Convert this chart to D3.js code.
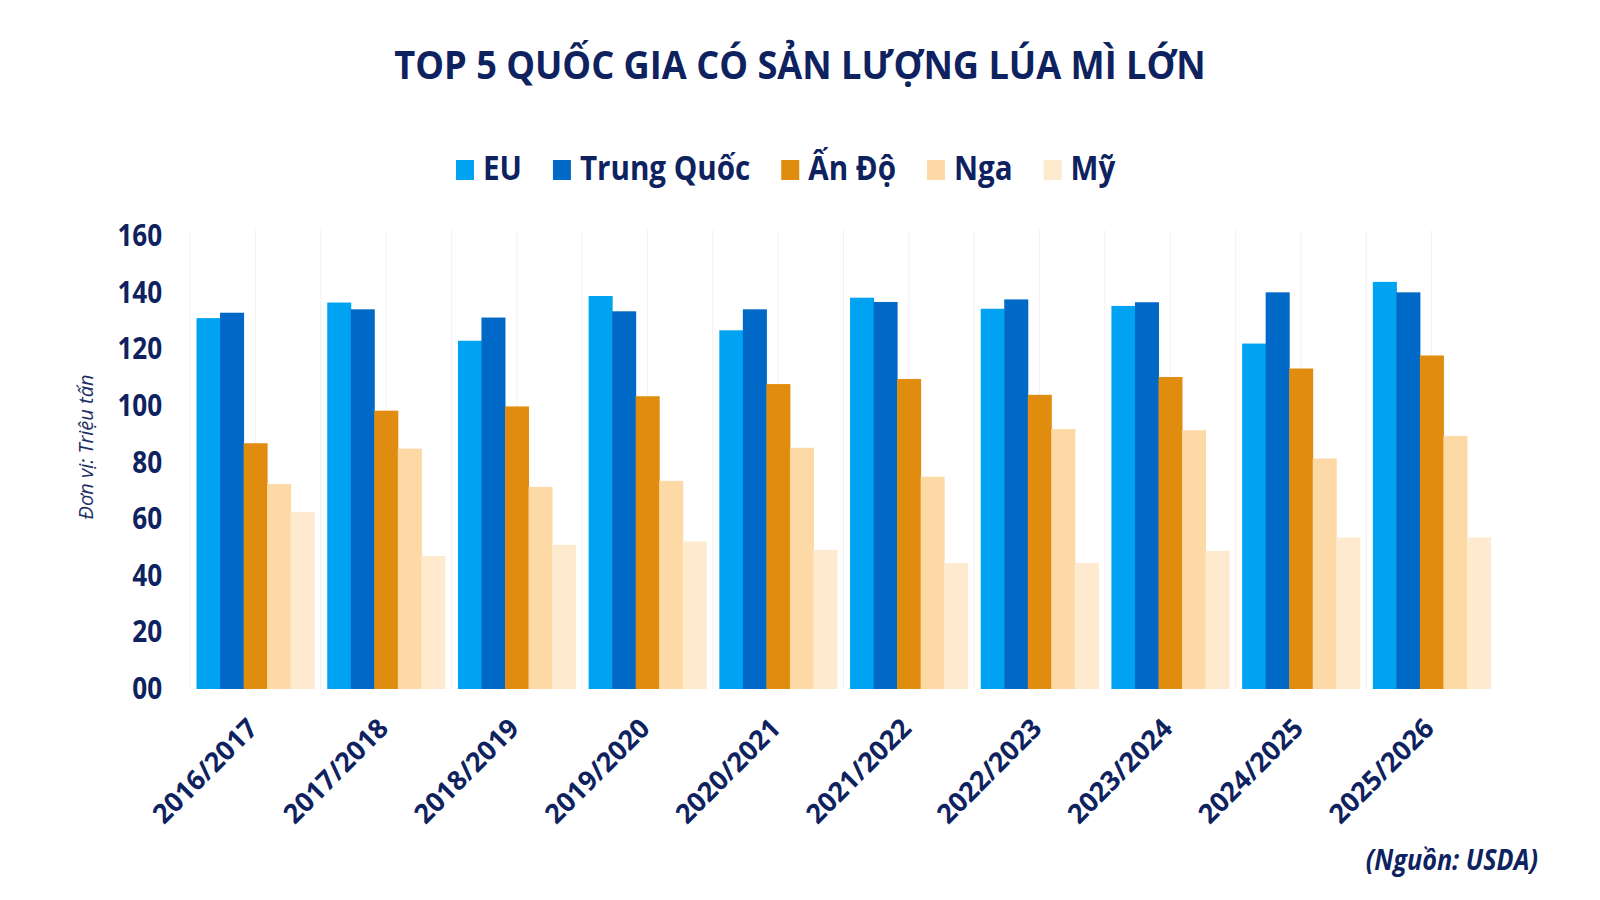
<!DOCTYPE html>
<html>
<head>
<meta charset="utf-8">
<script src="https://cdn.jsdelivr.net/npm/d3@7"></script>
<style>
  html, body { margin: 0; padding: 0; background: #fff; }
  svg { display: block; font-family: 'Open Sans', 'Noto Sans', sans-serif; }
</style>
</head>
<body>
<svg id="chart" width="1600" height="900"></svg>
<script>
// ── Data ──────────────────────────────────────────────────────────────────────
const seasons = ['2016/2017', '2017/2018', '2018/2019', '2019/2020', '2020/2021',
                 '2021/2022', '2022/2023', '2023/2024', '2024/2025', '2025/2026'];
const seriesNames = ['EU', 'Trung Quốc', 'Ấn Độ', 'Nga', 'Mỹ'];
const eu     = [131.0, 136.5, 123.0, 138.8, 126.7, 138.2, 134.3, 135.3, 122.0, 143.8];
const china  = [132.9, 134.1, 131.2, 133.4, 134.1, 136.7, 137.6, 136.6, 140.1, 140.1];
const india  = [ 86.8,  98.3,  99.8, 103.4, 107.7, 109.5, 103.9, 110.2, 113.2, 117.8];
const russia = [ 72.4,  84.9,  71.4,  73.5,  85.2,  75.0,  91.8,  91.4,  81.4,  89.4];
const usa    = [ 62.5,  47.0,  50.9,  52.1,  49.1,  44.5,  44.5,  48.8,  53.5,  53.5];
const yTicks = [0, 20, 40, 60, 80, 100, 120, 140, 160];

const values = [eu, china, india, russia, usa];
const colors = ['#00a3f2', '#0068c6', '#e08c0e', '#fdd9a5', '#fdeacf'];
const ink = '#0e2260';
const SX = 0.87; // horizontal squeeze of the lettering

// ── Dimensions ────────────────────────────────────────────────────────────────
const plot = { left: 190, right: 1497, top: 236, bottom: 689 };

const svg = d3.select('#chart');

// Scales
const x = d3.scaleBand()
  .domain(seasons)
  .range([plot.left, plot.right])
  .paddingInner(0.1)
  .paddingOuter(0.05);

const xs = d3.scaleBand()
  .domain(seriesNames)
  .range([0, x.bandwidth()]);

const y = d3.scaleLinear()
  .domain([0, 160])
  .range([plot.bottom, plot.top]);

const color = d3.scaleOrdinal().domain(seriesNames).range(colors);

// Faint vertical grid (band edges + centres)
const gridX = [];
seasons.forEach(s => {
  gridX.push(x(s) - x.step() * x.paddingInner() / 2);
  gridX.push(x(s) + x.bandwidth() / 2);
});
svg.append('g')
  .selectAll('line')
  .data(gridX)
  .join('line')
  .attr('x1', d => d).attr('x2', d => d)
  .attr('y1', y(160) - 6).attr('y2', plot.bottom)
  .attr('stroke', '#f2f0f5')
  .attr('stroke-width', 1);

// Bars
const rows = seasons.map((s, i) => ({
  season: s,
  items: seriesNames.map((n, k) => ({ name: n, value: values[k][i] }))
}));

svg.append('g')
  .selectAll('g')
  .data(rows)
  .join('g')
  .attr('transform', d => `translate(${x(d.season)},0)`)
  .selectAll('rect')
  .data(d => d.items)
  .join('rect')
  .attr('x', d => xs(d.name))
  .attr('width', xs.bandwidth() + 0.5)
  .attr('y', d => y(d.value))
  .attr('height', d => y(0) - y(d.value))
  .attr('fill', d => color(d.name));

// Y axis
const yAxis = svg.append('g')
  .attr('transform', `translate(170,0)`)
  .call(d3.axisLeft(y).tickValues(yTicks).tickSize(0).tickPadding(9).tickFormat(d3.format('02d')));
yAxis.select('.domain').remove();
yAxis.selectAll('text')
  .attr('fill', ink)
  .attr('font-size', 30)
  .attr('font-weight', 700)
  .attr('font-family', 'Open Sans, sans-serif')
  .attr('transform', `scale(${SX},1)`);

// X axis
const xAxis = svg.append('g')
  .attr('transform', `translate(0,${plot.bottom})`)
  .call(d3.axisBottom(x).tickSize(0));
xAxis.select('.domain').remove();
xAxis.selectAll('text')
  .attr('fill', ink)
  .attr('font-size', 27)
  .attr('font-weight', 700)
  .attr('font-family', 'Open Sans, sans-serif')
  .attr('text-anchor', 'end')
  .attr('y', 0).attr('dy', 0)
  .attr('transform', 'translate(4,41) rotate(-45)');

// Y axis title
svg.append('text')
  .attr('transform', 'translate(86,447) rotate(-90)')
  .attr('text-anchor', 'middle')
  .attr('dy', '0.35em')
  .attr('font-size', 20)
  .attr('font-style', 'italic')
  .attr('fill', '#1d2f66')
  .text('Đơn vị: Triệu tấn');

// ── Title ─────────────────────────────────────────────────────────────────────
svg.append('text')
  .attr('transform', `translate(800,79) scale(0.905,1)`)
  .attr('text-anchor', 'middle')
  .attr('font-size', 40)
  .attr('font-weight', 700)
  .attr('fill', ink)
  .text('TOP 5 QUỐC GIA CÓ SẢN LƯỢNG LÚA MÌ LỚN');

// ── Legend ────────────────────────────────────────────────────────────────────
const legend = svg.append('g');
let lx = 456;
seriesNames.forEach(n => {
  legend.append('rect')
    .attr('x', lx).attr('y', 160)
    .attr('width', 18).attr('height', 20)
    .attr('fill', color(n));
  const t = legend.append('text')
    .attr('transform', `translate(${lx + 27},180) scale(${SX},1)`)
    .attr('font-size', 34)
    .attr('font-weight', 700)
    .attr('fill', ink)
    .text(n);
  lx += 27 + t.node().getComputedTextLength() * SX + 31;
});

// ── Source ────────────────────────────────────────────────────────────────────
svg.append('text')
  .attr('transform', `translate(1538,870) scale(0.9,1)`)
  .attr('text-anchor', 'end')
  .attr('font-size', 28)
  .attr('font-weight', 700)
  .attr('font-style', 'italic')
  .attr('fill', ink)
  .text('(Nguồn: USDA)');
</script>
</body>
</html>
